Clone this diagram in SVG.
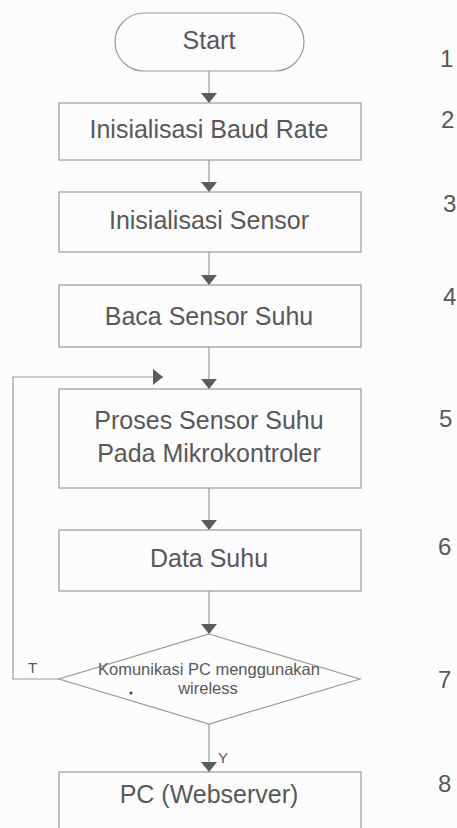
<svg xmlns="http://www.w3.org/2000/svg" width="457" height="828" viewBox="0 0 457 828">
<defs>
<style>
.box{fill:none;stroke:#9a9a9a;stroke-width:1.2}
.ln{fill:none;stroke:#9a9a9a;stroke-width:1.2}
.t{font-family:"Liberation Sans",Arial,sans-serif;font-size:25px;fill:#585858;text-anchor:middle}
.s{font-family:"Liberation Sans",Arial,sans-serif;font-size:15px;fill:#585858}
.d{font-family:"Liberation Sans",Arial,sans-serif;font-size:16.5px;fill:#585858;text-anchor:middle}
.n{font-family:"Liberation Sans",Arial,sans-serif;font-size:24px;fill:#585858}
</style>
<marker id="ah" viewBox="0 0 10 16" refX="10" refY="8" markerWidth="10" markerHeight="16" markerUnits="userSpaceOnUse" orient="auto">
<path d="M0,0 L10,8 L0,16 Z" fill="#5c5c5c"/>
</marker>
</defs>
<rect width="457" height="828" fill="#fcfcfc"/>
<g id="connectors">
<line class="ln" x1="209" y1="71" x2="209" y2="103" marker-end="url(#ah)"/>
<line class="ln" x1="209" y1="160" x2="209" y2="192" marker-end="url(#ah)"/>
<line class="ln" x1="209" y1="252" x2="209" y2="285" marker-end="url(#ah)"/>
<line class="ln" x1="209" y1="347" x2="209" y2="389" marker-end="url(#ah)"/>
<line class="ln" x1="209" y1="488" x2="209" y2="530" marker-end="url(#ah)"/>
<line class="ln" x1="209" y1="591" x2="209" y2="634" marker-end="url(#ah)"/>
<line class="ln" x1="209" y1="724" x2="209" y2="772" marker-end="url(#ah)"/>
<polyline class="ln" points="59,679 13,679 13,377 163,377" marker-end="url(#ah)"/>
<text class="s" x="28" y="673">T</text>
<text class="s" x="218" y="763">Y</text>
</g>
<g id="n1">
<rect class="box" x="115" y="13" width="189" height="58" rx="29" ry="29"/>
<text class="t" x="209" y="49">Start</text>
</g>
<g id="n2">
<rect class="box" x="59" y="103" width="302" height="57"/>
<text class="t" x="209" y="138">Inisialisasi Baud Rate</text>
</g>
<g id="n3">
<rect class="box" x="59" y="192" width="302" height="60"/>
<text class="t" x="209" y="229">Inisialisasi Sensor</text>
</g>
<g id="n4">
<rect class="box" x="59" y="285" width="302" height="62"/>
<text class="t" x="209" y="325">Baca Sensor Suhu</text>
</g>
<g id="n5">
<rect class="box" x="59" y="389" width="302" height="99"/>
<text class="t" x="209" y="429">Proses Sensor Suhu</text>
<text class="t" x="209" y="462">Pada Mikrokontroler</text>
</g>
<g id="n6">
<rect class="box" x="59" y="530" width="302" height="61"/>
<text class="t" x="209" y="567">Data Suhu</text>
</g>
<g id="n7">
<polygon class="box" points="209,634 360,679 209,724 59,679"/>
<text class="d" x="209" y="675">Komunikasi PC menggunakan</text>
<text class="d" x="208" y="694">wireless</text>
<circle cx="131" cy="693" r="1.6" fill="#444"/>
</g>
<g id="n8">
<rect class="box" x="59" y="772" width="302" height="80"/>
<text class="t" x="209" y="803">PC (Webserver)</text>
</g>
<g id="numbers">
<text class="n" x="440" y="67">1</text>
<text class="n" x="441" y="128">2</text>
<text class="n" x="443" y="212">3</text>
<text class="n" x="443" y="305">4</text>
<text class="n" x="439" y="427">5</text>
<text class="n" x="438" y="555">6</text>
<text class="n" x="438" y="688">7</text>
<text class="n" x="438" y="792">8</text>
</g>
</svg>
